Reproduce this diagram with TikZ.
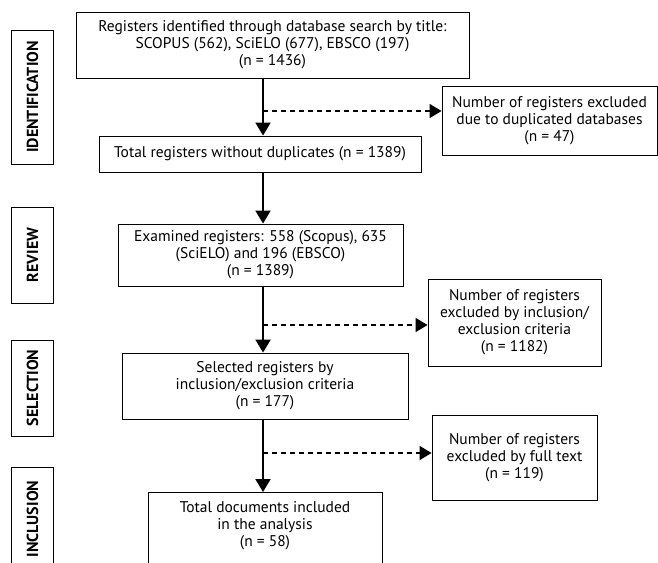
\documentclass[tikz,border=0pt]{standalone}
\usepackage{fontspec}
\setmainfont{PT Sans}
\usetikzlibrary{arrows.meta}
\tikzset{
  box/.style={draw, line width=0.9pt, align=center, inner sep=2pt, font=\fontsize{15.5}{17}\selectfont},
  kmain/.style={box},
  kexcl/.style={box},
  kphase/.style={draw, line width=1pt, rotate=90, font=\fontsize{16}{18}\selectfont\bfseries},
  flow/.style={-{Triangle[length=13pt, width=15pt]}, line width=2pt},
  skip/.style={-{Triangle[length=12pt, width=14pt]}, line width=1.4pt, dash pattern=on 5pt off 4pt},
}

\begin{document}
\begin{tikzpicture}[x=1pt, y=-1pt]
    \clip (0,0) rectangle (658,562);
    % phase labels
    \node[kphase, minimum width=134pt, minimum height=42pt] (ident) at (32.5,97) {IDENTIFICATION};
    \node[kphase, minimum width=96pt, minimum height=42pt] (review) at (32.5,255) {REVIEW};
    \node[kphase, minimum width=96pt, minimum height=42pt] (select) at (32.5,388) {SELECTION};
    \node[kphase, minimum width=104pt, minimum height=42pt] (incl) at (32.5,519) {INCLUSION};
    % main boxes
    \node[kmain, minimum width=393pt, minimum height=66pt] (found) at (272.5,45) {Registers identified through database search by title:\\SCOPUS (562), SciELO (677), EBSCO (197)\\(n = 1436)};
    \node[kmain, minimum width=322pt, minimum height=36pt] (nodup) at (260,154) {Total registers without duplicates (n = 1389)};
    \node[kmain, minimum width=285pt, minimum height=62pt] (exam) at (260.5,255) {Examined registers: 558 (Scopus), 635\\(SciELO) and 196 (EBSCO)\\(n = 1389)};
    \node[kmain, minimum width=286pt, minimum height=66pt] (chosen) at (265,386) {Selected registers by\\inclusion/exclusion criteria\\(n = 177)};
    \node[kmain, minimum width=234pt, minimum height=100pt, anchor=north] (final) at (265,492) {Total documents included\\in the analysis\\(n = 58)\\[19pt]};
    % excluded boxes
    \node[kexcl, minimum width=215pt, minimum height=69pt] (dups) at (549.5,120.5) {Number of registers excluded\\due to duplicated databases\\(n = 47)};
    \node[kexcl, minimum width=173pt, minimum height=87pt] (crit) at (514.5,322.5) {Number of registers\\excluded by inclusion/\\exclusion criteria\\(n = 1182)};
    \node[kexcl, minimum width=165pt, minimum height=85pt] (full) at (514.5,457.5) {Number of registers\\excluded by full text\\(n = 119)};
    % spine and branch points
    \coordinate (spine) at (263,0);
    \coordinate (b1) at (263,111);
    \coordinate (b2) at (263,325);
    \coordinate (b3) at (263,453);
    \draw[flow] (found.south -| spine) -- (nodup.north -| spine);
    \draw[flow] (nodup.south -| spine) -- (exam.north -| spine);
    \draw[flow] (exam.south -| spine) -- (chosen.north -| spine);
    \draw[flow] (chosen.south -| spine) -- (final.north -| spine);
    \draw[skip] (b1) -- (b1 -| dups.west);
    \draw[skip] (b2) -- (b2 -| crit.west);
    \draw[skip] (b3) -- (b3 -| full.west);
  \end{tikzpicture}
\end{document}
